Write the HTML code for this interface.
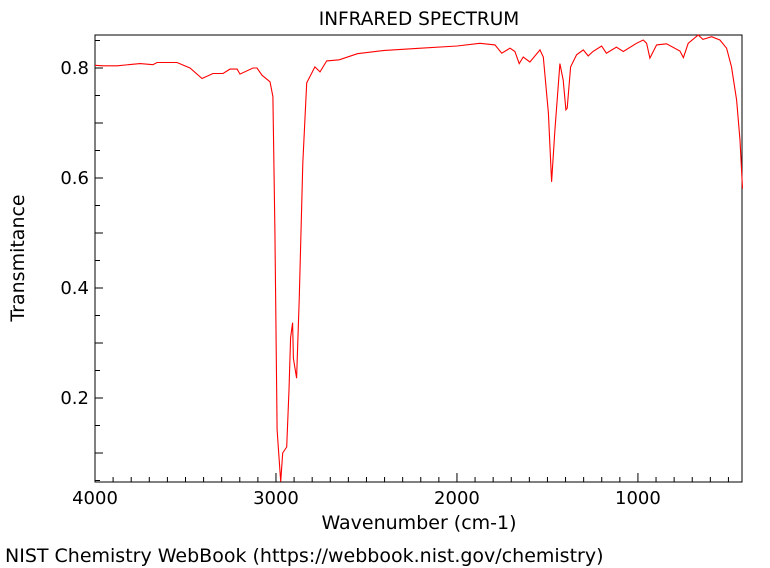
<!DOCTYPE html>
<html><head><meta charset="utf-8"><style>
html,body{margin:0;padding:0;background:#fff;}
svg{display:block;font-family:"DejaVu Sans","Liberation Sans",sans-serif;}
</style></head><body>
<svg id="chart" width="770" height="568">
<text x="419" y="25" font-size="18.5" text-anchor="middle">INFRARED SPECTRUM</text>
<rect x="95" y="35" width="647" height="447" fill="none" stroke="#000" stroke-width="1"/>
<g id="xticks"></g>
<g id="yticks"></g>
<path id="spec" fill="none" stroke="#ff0000" stroke-width="1.1"/>
<text x="419" y="529" font-size="19" text-anchor="middle">Wavenumber (cm-1)</text>
<text transform="translate(24,258) rotate(-90)" font-size="19" text-anchor="middle">Transmitance</text>
<text x="5" y="562" font-size="19">NIST Chemistry WebBook (https://webbook.nist.gov/chemistry)</text>
</svg>
<script>
const wavenumbers=[4000,3956,3878,3751,3680,3657,3547,3475,3409,3348,3293,3254,3215,3199,3127,3105,3077,3033,3017,3006,2994,2974,2963,2941,2928,2919,2908,2904,2886,2871,2852,2830,2785,2757,2720,2650,2550,2400,2200,2000,1873,1790,1753,1707,1680,1656,1634,1597,1541,1523,1495,1477,1459,1431,1413,1398,1391,1372,1339,1302,1275,1249,1201,1174,1119,1081,1008,971,952,934,897,842,768,749,722,667,641,593,547,510,483,455,436,422];
const transmittance=[0.805,0.804,0.804,0.808,0.806,0.81,0.81,0.80,0.781,0.79,0.79,0.798,0.798,0.789,0.80,0.80,0.787,0.775,0.748,0.505,0.142,0.048,0.10,0.111,0.215,0.31,0.337,0.272,0.236,0.384,0.627,0.773,0.802,0.793,0.813,0.815,0.826,0.832,0.836,0.84,0.845,0.842,0.827,0.836,0.83,0.808,0.82,0.811,0.833,0.82,0.718,0.593,0.687,0.808,0.778,0.724,0.727,0.802,0.824,0.833,0.822,0.83,0.84,0.827,0.838,0.83,0.845,0.851,0.845,0.818,0.842,0.844,0.831,0.819,0.845,0.86,0.852,0.857,0.851,0.836,0.802,0.742,0.669,0.581];
const xTickValues=[4000,3000,2000,1000];
const yTickValues=[0.2,0.4,0.6,0.8];
const NS="http://www.w3.org/2000/svg";
const L=95,R=742,T=35,B=482;
const wMax=4000,wMin=425,tMax=0.86,tMin=0.0473;
function xs(w){return L+(wMax-w)/(wMax-wMin)*(R-L);}
function ys(t){return T+(tMax-t)/(tMax-tMin)*(B-T);}
function mk(tag,attrs,parent){const e=document.createElementNS(NS,tag);for(const k in attrs)e.setAttribute(k,attrs[k]);parent.appendChild(e);return e;}
const xg=document.getElementById('xticks'),yg=document.getElementById('yticks');
for(let w=4000;w>=wMin;w-=100){
  const major=w%1000===0;
  const t=mk('line',{x1:xs(w),x2:xs(w),y1:B,y2:B-(major?9:5),stroke:'#000'},xg);
  
  
}
xTickValues.forEach(v=>{
  const t=mk('text',{x:xs(v),y:B+22,'font-size':18,'text-anchor':'middle'},xg);
  t.textContent=v;
  
  
});
for(let k=1;k<=17;k++){
  const v=k*0.05;
  if(v<tMin||v>tMax)continue;
  const major=k%2===0;
  const t=mk('line',{x1:L,x2:L+(major?8:5),y1:ys(v),y2:ys(v),stroke:'#000'},yg);
  
  
}
yTickValues.forEach(v=>{
  const t=mk('text',{x:L-6,y:ys(v)+6,'font-size':18,'text-anchor':'end'},yg);
  t.textContent=v.toFixed(1);
  
  
});
document.getElementById('spec').setAttribute('d',wavenumbers.map((w,i)=>(i?'L':'M')+xs(w).toFixed(1)+','+ys(transmittance[i]).toFixed(1)).join(''));
</script>
</body></html>
